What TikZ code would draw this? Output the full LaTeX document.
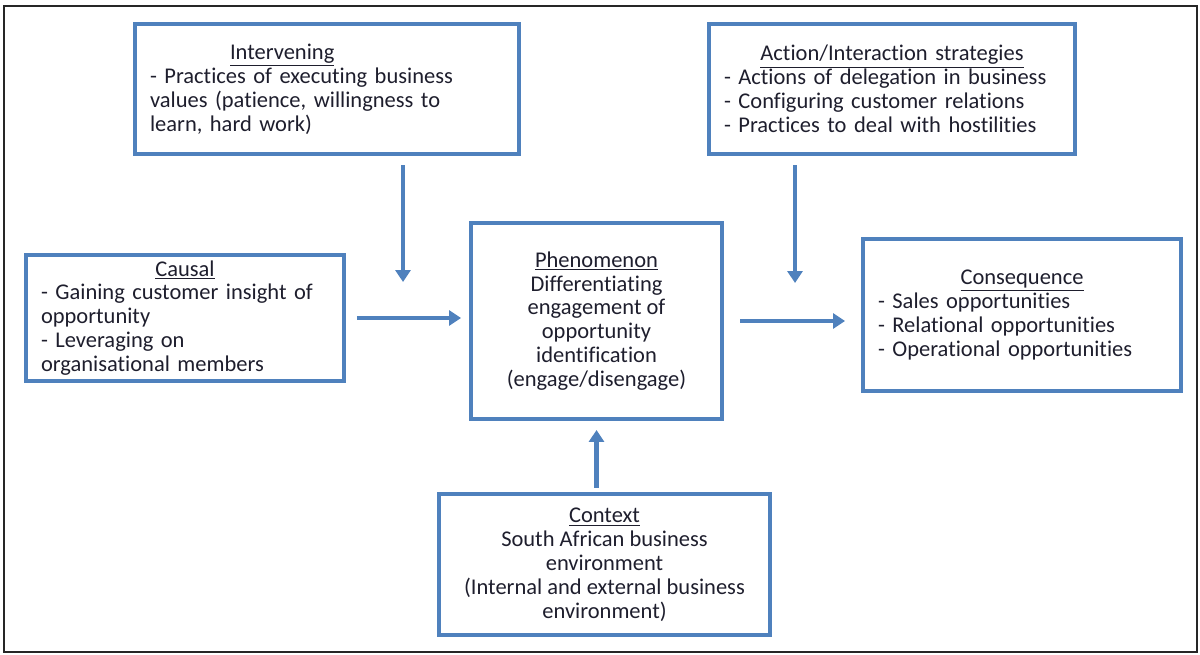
\documentclass[tikz,border=0pt]{standalone}
\usepackage{fontspec}
\setmainfont{Carlito}[RawFeature={-liga;-clig;-calt}]
\usetikzlibrary{arrows.meta}
\definecolor{boxblue}{RGB}{79,129,189}
\definecolor{inkdark}{RGB}{30,30,45}

\begin{document}
\begin{tikzpicture}[x=0.02cm,y=-0.02cm,
    every node/.style={font=\fontsize{12.8pt}{13.6pt}\selectfont,text=inkdark},
    box/.style={draw=boxblue,line width=2.3pt,inner xsep=0.3cm,align=left},
    flow/.style={draw=boxblue,line width=2.3pt,-{Triangle[width=8.5pt,length=6.8pt]}}]
    \useasboundingbox (0,0) rectangle (1200,655);
    \draw [line width=0.8pt,black!85] (4,6) rectangle (1197,652);

    % the six boxes
    \node [box,minimum width=7.68cm,minimum height=2.6cm,text width=7.08cm] (interv) at (327,89)
        {\hspace*{1.6cm}\underline{Intervening}\\
         - Practices of executing business\\
         values (patience, willingness to\\
         learn, hard work)};
    \node [box,minimum width=7.32cm,minimum height=2.6cm,text width=6.72cm] (action) at (892,89)
        {\makebox[\linewidth]{\underline{Action/Interaction strategies}}\\
         - Actions of delegation in business\\
         - Configuring customer relations\\
         - Practices to deal with hostilities};
    \node [box,minimum width=6.36cm,minimum height=2.52cm,text width=5.76cm] (causal) at (185,318)
        {\makebox[\linewidth]{\underline{Causal}}\\
         - Gaining customer insight of\\
         opportunity\\
         - Leveraging on\\
         organisational members};
    \node [box,align=center,minimum width=5.02cm,minimum height=3.92cm] (phenom) at (596.5,321)
        {\underline{Phenomenon}\\
         Differentiating\\
         engagement of\\
         opportunity\\
         identification\\
         (engage/disengage)};
    \node [box,minimum width=6.36cm,minimum height=3.04cm,text width=5.76cm] (conseq) at (1022,315)
        {\makebox[\linewidth]{\underline{Consequence}}\\
         - Sales opportunities\\
         - Relational opportunities\\
         - Operational opportunities};
    \node [box,align=center,minimum width=6.62cm,minimum height=2.82cm] (context) at (604.5,564.5)
        {\underline{Context}\\
         South African business\\
         environment\\
         (Internal and external business\\
         environment)};

    % arrows
    \coordinate (ivend) at (403,282);
    \coordinate (acend) at (795,283);
    \draw [flow,shorten <=0.18cm] (ivend |- interv.south) -- (ivend);
    \draw [flow,shorten <=0.18cm] (acend |- action.south) -- (acend);
    \draw [flow,shorten <=0.22cm,shorten >=0.16cm] (causal.east) -- (causal.east -| phenom.west);
    \draw [flow,shorten <=0.32cm,shorten >=0.32cm] (phenom.east) -- (phenom.east -| conseq.west);
    \draw [flow,shorten <=0.08cm,shorten >=0.18cm] (phenom.south |- context.north) -- (phenom.south);
\end{tikzpicture}
\end{document}
